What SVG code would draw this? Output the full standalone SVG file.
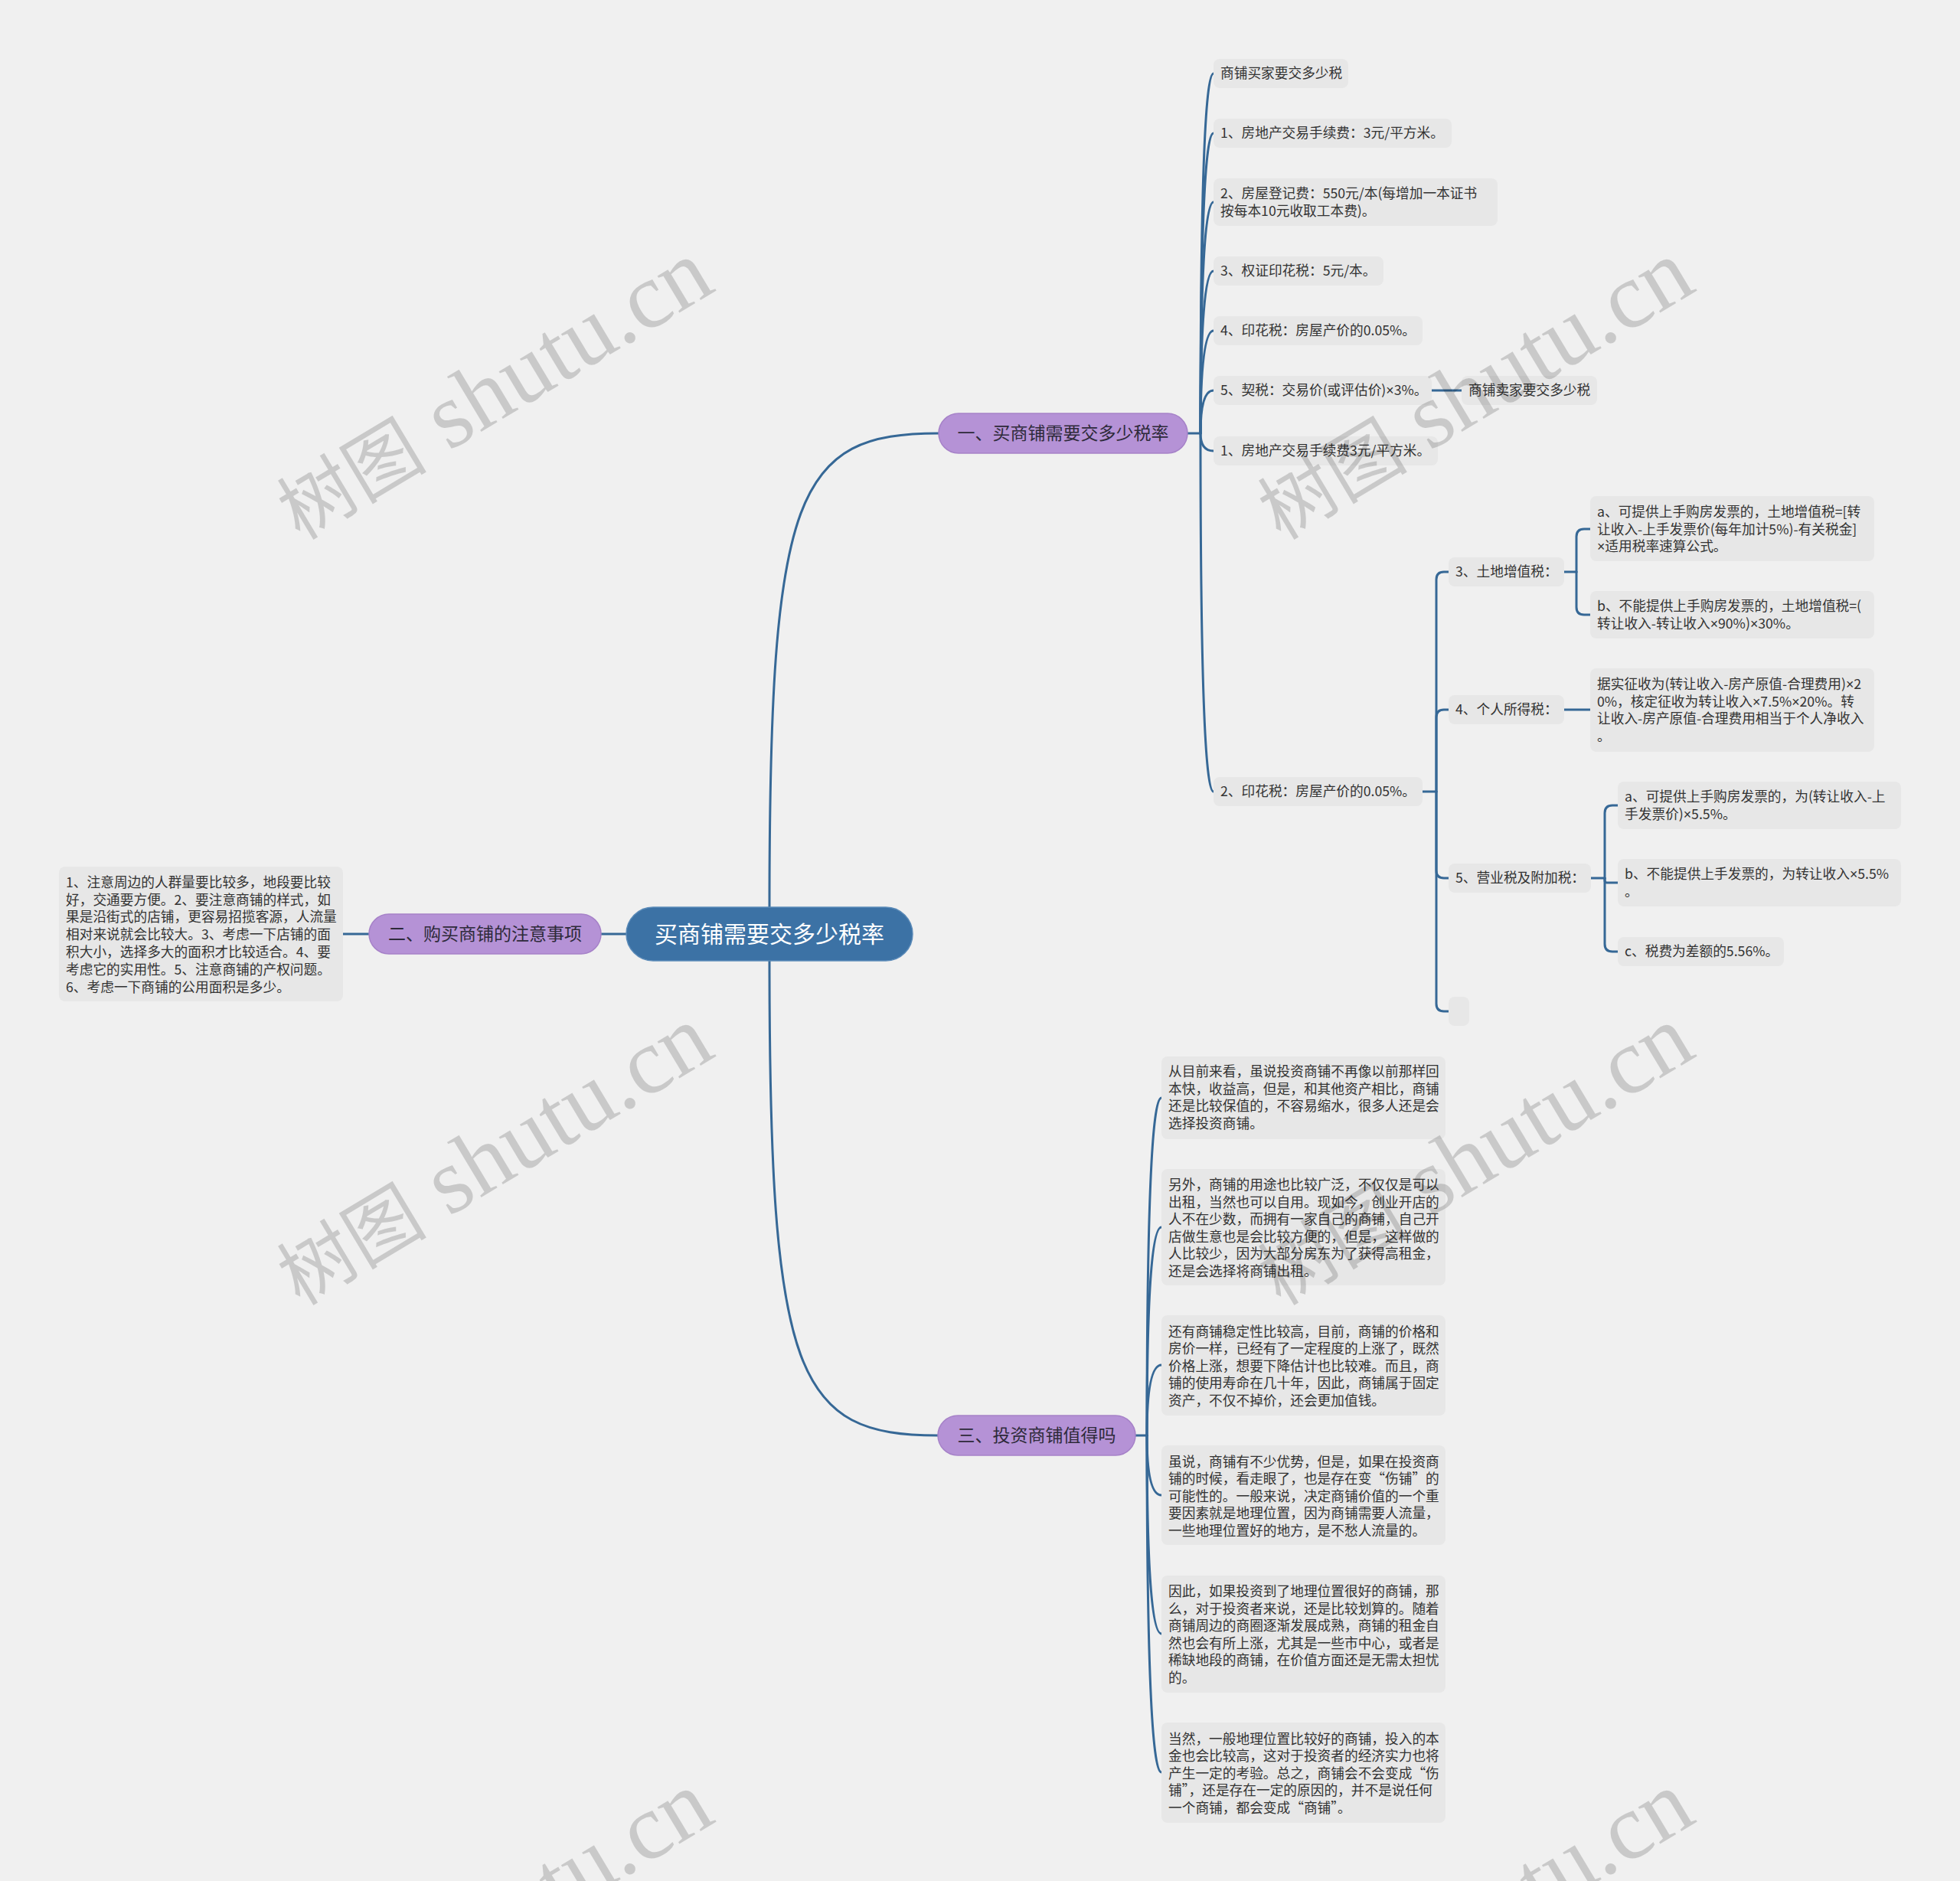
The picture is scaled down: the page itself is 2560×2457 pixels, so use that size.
<svg xmlns="http://www.w3.org/2000/svg" width="2560" height="2457" viewBox="0 0 2560 2457">
<style>
.leaf{fill:#e7e7e7}
.lt{font-family:"Noto Sans CJK SC","Liberation Sans",sans-serif;font-size:17.7px;fill:#333}
.x{font-family:"Liberation Sans",sans-serif}
.pill{fill:#b592d6;stroke:#a682c8;stroke-width:1.5}
.pt{font-family:"Noto Sans CJK SC","Liberation Sans",sans-serif;font-size:23px;fill:#2e2a3a;text-anchor:middle}
.root{fill:#3c72a5;stroke:#5a8ab8;stroke-width:1.5}
.rt{font-family:"Noto Sans CJK SC","Liberation Sans",sans-serif;font-size:30px;fill:#fff;text-anchor:middle}
.conn path{fill:none;stroke:#366896;stroke-width:3;stroke-linecap:round}
.wm{font-family:"Liberation Serif","Noto Sans CJK SC",serif;font-size:122px;fill:#000;fill-opacity:0.16;text-anchor:middle}
.wc{font-size:98px}
</style>
<rect width="2560" height="2457" fill="#f0f0f0"/>
<g id="connectors" class="conn">
<path d="M1005,1185 C1005,640 1040,566 1226,566"/>
<path d="M1005,1255 C1005,1800 1040,1875 1225,1875"/>
<path d="M818,1220 H785"/>
<path d="M482,1220 H448"/>
<path d="M1551,566 H1568"/>
<path d="M1568,566 Q1568,96 1585,96"/>
<path d="M1568,566 Q1568,174 1585,174"/>
<path d="M1568,566 Q1568,264 1585,264"/>
<path d="M1568,566 Q1568,354 1585,354"/>
<path d="M1568,566 Q1568,432 1585,432"/>
<path d="M1568,566 Q1568,510 1585,510"/>
<path d="M1568,566 Q1568,589 1585,589"/>
<path d="M1568,566 Q1568,1034 1585,1034"/>
<path d="M1870,510 H1909"/>
<path d="M1858,1034 H1876"/>
<path d="M1876,1034 V757 Q1876,747 1886,747 H1892"/>
<path d="M1876,1034 V937 Q1876,927 1886,927 H1892"/>
<path d="M1876,1034 V1137 Q1876,1147 1886,1147 H1892"/>
<path d="M1876,1034 V1311 Q1876,1321 1886,1321 H1892"/>
<path d="M2043,747 H2059"/>
<path d="M2059,747 V701 Q2059,691 2069,691 H2077"/>
<path d="M2059,747 V793 Q2059,803 2069,803 H2077"/>
<path d="M2043,927 H2077"/>
<path d="M2078,1147 H2096"/>
<path d="M2096,1147 V1062 Q2096,1052 2106,1052 H2113"/>
<path d="M2096,1147 V1150 Q2096,1153 2099,1153 H2113"/>
<path d="M2096,1147 V1233 Q2096,1243 2106,1243 H2113"/>
<path d="M1483,1875 H1498"/>
<path d="M1498,1875 Q1498,1434 1517,1434"/>
<path d="M1498,1875 Q1498,1603 1517,1603"/>
<path d="M1498,1875 Q1498,1783 1517,1783"/>
<path d="M1498,1875 Q1498,1953 1517,1953"/>
<path d="M1498,1875 Q1498,2134 1517,2134"/>
<path d="M1498,1875 Q1498,2315 1517,2315"/>
</g>
<g id="root"><rect class="root" x="818" y="1185" width="374" height="70" rx="35"/><text class="rt" x="1005" y="1231">买商铺需要交多少税率</text></g>
<g id="b1"><rect class="pill" x="1226" y="540" width="325" height="52" rx="26"/><text class="pt" x="1388.5" y="574">一、买商铺需要交多少税率</text></g>
<g id="b2"><rect class="pill" x="482" y="1194" width="303" height="52" rx="26"/><text class="pt" x="633.5" y="1228">二、购买商铺的注意事项</text></g>
<g id="b3"><rect class="pill" x="1225" y="1849" width="258" height="52" rx="26"/><text class="pt" x="1354" y="1883">三、投资商铺值得吗</text></g>
<g id="b2c"><rect class="leaf" x="77" y="1132" width="371" height="176" rx="8"/><text class="lt"><tspan x="86" y="1159">1、注意周边的人群量要比较多，地段要比较</tspan><tspan x="86" y="1182">好，交通要方便。2、要注意商铺的样式，如</tspan><tspan x="86" y="1204">果是沿街式的店铺，更容易招揽客源，人流量</tspan><tspan x="86" y="1227">相对来说就会比较大。3、考虑一下店铺的面</tspan><tspan x="86" y="1250">积大小，选择多大的面积才比较适合。4、要</tspan><tspan x="86" y="1273">考虑它的实用性。5、注意商铺的产权问题。</tspan><tspan x="86" y="1296">6、考虑一下商铺的公用面积是多少。</tspan></text></g>
<g id="l1"><rect class="leaf" x="1585" y="77" width="176" height="38" rx="8"/><text class="lt" x="1594" y="102">商铺买家要交多少税</text></g>
<g id="l2"><rect class="leaf" x="1585" y="155" width="311" height="38" rx="8"/><text class="lt" x="1594" y="180">1、房地产交易手续费：3元/平方米。</text></g>
<g id="l3"><rect class="leaf" x="1585" y="233" width="371" height="62" rx="8"/><text class="lt"><tspan x="1594" y="259">2、房屋登记费：550元/本(每增加一本证书</tspan><tspan x="1594" y="282">按每本10元收取工本费)。</tspan></text></g>
<g id="l4"><rect class="leaf" x="1585" y="335" width="222" height="38" rx="8"/><text class="lt" x="1594" y="360">3、权证印花税：5元/本。</text></g>
<g id="l5"><rect class="leaf" x="1585" y="413" width="273" height="38" rx="8"/><text class="lt" x="1594" y="438">4、印花税：房屋产价的0.05%。</text></g>
<g id="l6"><rect class="leaf" x="1585" y="491" width="285" height="38" rx="8"/><text class="lt" x="1594" y="516">5、契税：交易价(或评估价)<tspan class="x">×</tspan>3%。</text></g>
<g id="l6c"><rect class="leaf" x="1909" y="491" width="177" height="38" rx="8"/><text class="lt" x="1918" y="516">商铺卖家要交多少税</text></g>
<g id="l7"><rect class="leaf" x="1585" y="570" width="293" height="38" rx="8"/><text class="lt" x="1594" y="595">1、房地产交易手续费3元/平方米。</text></g>
<g id="l8"><rect class="leaf" x="1585" y="1015" width="273" height="38" rx="8"/><text class="lt" x="1594" y="1040">2、印花税：房屋产价的0.05%。</text></g>
<g id="s3"><rect class="leaf" x="1892" y="728" width="151" height="38" rx="8"/><text class="lt" x="1901" y="753">3、土地增值税：</text></g>
<g id="s3a"><rect class="leaf" x="2077" y="648" width="371" height="85" rx="8"/><text class="lt"><tspan x="2086" y="675">a、可提供上手购房发票的，土地增值税=[转</tspan><tspan x="2086" y="698">让收入-上手发票价(每年加计5%)-有关税金]</tspan><tspan x="2086" y="720"><tspan class="x">×</tspan>适用税率速算公式。</tspan></text></g>
<g id="s3b"><rect class="leaf" x="2077" y="772" width="371" height="62" rx="8"/><text class="lt"><tspan x="2086" y="798">b、不能提供上手购房发票的，土地增值税=(</tspan><tspan x="2086" y="821">转让收入-转让收入<tspan class="x">×</tspan>90%)<tspan class="x">×</tspan>30%。</tspan></text></g>
<g id="s4"><rect class="leaf" x="1892" y="908" width="151" height="38" rx="8"/><text class="lt" x="1901" y="933">4、个人所得税：</text></g>
<g id="s4c"><rect class="leaf" x="2077" y="873" width="371" height="109" rx="8"/><text class="lt"><tspan x="2086" y="900">据实征收为(转让收入-房产原值-合理费用)<tspan class="x">×</tspan>2</tspan><tspan x="2086" y="923">0%，核定征收为转让收入<tspan class="x">×</tspan>7.5%<tspan class="x">×</tspan>20%。转</tspan><tspan x="2086" y="945">让收入-房产原值-合理费用相当于个人净收入</tspan><tspan x="2086" y="968">。</tspan></text></g>
<g id="s5"><rect class="leaf" x="1892" y="1128" width="186" height="38" rx="8"/><text class="lt" x="1901" y="1153">5、营业税及附加税：</text></g>
<g id="s5a"><rect class="leaf" x="2113" y="1021" width="370" height="62" rx="8"/><text class="lt"><tspan x="2122" y="1047">a、可提供上手购房发票的，为(转让收入-上</tspan><tspan x="2122" y="1070">手发票价)<tspan class="x">×</tspan>5.5%。</tspan></text></g>
<g id="s5b"><rect class="leaf" x="2113" y="1122" width="370" height="62" rx="8"/><text class="lt"><tspan x="2122" y="1148">b、不能提供上手发票的，为转让收入<tspan class="x">×</tspan>5.5%</tspan><tspan x="2122" y="1171">。</tspan></text></g>
<g id="s5c"><rect class="leaf" x="2113" y="1224" width="217" height="38" rx="8"/><text class="lt" x="2122" y="1249">c、税费为差额的5.56%。</text></g>
<g id="s6"><rect class="leaf" x="1892" y="1302" width="27" height="38" rx="8"/></g>
<g id="t1"><rect class="leaf" x="1517" y="1380" width="371" height="108" rx="8"/><text class="lt"><tspan x="1526" y="1406">从目前来看，虽说投资商铺不再像以前那样回</tspan><tspan x="1526" y="1429">本快，收益高，但是，和其他资产相比，商铺</tspan><tspan x="1526" y="1451">还是比较保值的，不容易缩水，很多人还是会</tspan><tspan x="1526" y="1474">选择投资商铺。</tspan></text></g>
<g id="t2"><rect class="leaf" x="1517" y="1527" width="371" height="152" rx="8"/><text class="lt"><tspan x="1526" y="1554">另外，商铺的用途也比较广泛，不仅仅是可以</tspan><tspan x="1526" y="1577">出租，当然也可以自用。现如今，创业开店的</tspan><tspan x="1526" y="1599">人不在少数，而拥有一家自己的商铺，自己开</tspan><tspan x="1526" y="1622">店做生意也是会比较方便的，但是，这样做的</tspan><tspan x="1526" y="1644">人比较少，因为大部分房东为了获得高租金，</tspan><tspan x="1526" y="1667">还是会选择将商铺出租。</tspan></text></g>
<g id="t3"><rect class="leaf" x="1517" y="1718" width="371" height="131" rx="8"/><text class="lt"><tspan x="1526" y="1746">还有商铺稳定性比较高，目前，商铺的价格和</tspan><tspan x="1526" y="1768">房价一样，已经有了一定程度的上涨了，既然</tspan><tspan x="1526" y="1791">价格上涨，想要下降估计也比较难。而且，商</tspan><tspan x="1526" y="1813">铺的使用寿命在几十年，因此，商铺属于固定</tspan><tspan x="1526" y="1836">资产，不仅不掉价，还会更加值钱。</tspan></text></g>
<g id="t4"><rect class="leaf" x="1517" y="1888" width="371" height="130" rx="8"/><text class="lt"><tspan x="1526" y="1916">虽说，商铺有不少优势，但是，如果在投资商</tspan><tspan x="1526" y="1938">铺的时候，看走眼了，也是存在变“伤铺”的</tspan><tspan x="1526" y="1961">可能性的。一般来说，决定商铺价值的一个重</tspan><tspan x="1526" y="1983">要因素就是地理位置，因为商铺需要人流量，</tspan><tspan x="1526" y="2006">一些地理位置好的地方，是不愁人流量的。</tspan></text></g>
<g id="t5"><rect class="leaf" x="1517" y="2058" width="371" height="153" rx="8"/><text class="lt"><tspan x="1526" y="2085">因此，如果投资到了地理位置很好的商铺，那</tspan><tspan x="1526" y="2108">么，对于投资者来说，还是比较划算的。随着</tspan><tspan x="1526" y="2130">商铺周边的商圈逐渐发展成熟，商铺的租金自</tspan><tspan x="1526" y="2153">然也会有所上涨，尤其是一些市中心，或者是</tspan><tspan x="1526" y="2175">稀缺地段的商铺，在价值方面还是无需太担忧</tspan><tspan x="1526" y="2198">的。</tspan></text></g>
<g id="t6"><rect class="leaf" x="1517" y="2250" width="371" height="131" rx="8"/><text class="lt"><tspan x="1526" y="2278">当然，一般地理位置比较好的商铺，投入的本</tspan><tspan x="1526" y="2300">金也会比较高，这对于投资者的经济实力也将</tspan><tspan x="1526" y="2323">产生一定的考验。总之，商铺会不会变成“伤</tspan><tspan x="1526" y="2345">铺”，还是存在一定的原因的，并不是说任何</tspan><tspan x="1526" y="2368">一个商铺，都会变成“商铺”。</tspan></text></g>
<g id="watermarks">
<text class="wm" transform="translate(645,510) rotate(-31)" x="0" y="38"><tspan class="wc">树图</tspan> shutu.cn</text>
<text class="wm" transform="translate(1926,510) rotate(-31)" x="0" y="38"><tspan class="wc">树图</tspan> shutu.cn</text>
<text class="wm" transform="translate(645,1510) rotate(-31)" x="0" y="38"><tspan class="wc">树图</tspan> shutu.cn</text>
<text class="wm" transform="translate(1926,1510) rotate(-31)" x="0" y="38"><tspan class="wc">树图</tspan> shutu.cn</text>
<text class="wm" transform="translate(645,2510) rotate(-31)" x="0" y="38"><tspan class="wc">树图</tspan> shutu.cn</text>
<text class="wm" transform="translate(1926,2510) rotate(-31)" x="0" y="38"><tspan class="wc">树图</tspan> shutu.cn</text>
</g>
</svg>
